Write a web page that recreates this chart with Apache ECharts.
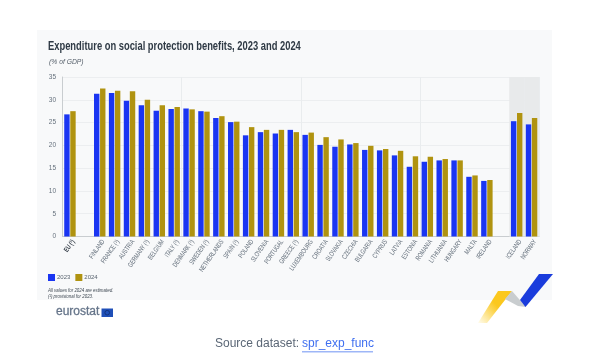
<!DOCTYPE html>
<html>
<head>
<meta charset="utf-8">
<script src="https://cdn.jsdelivr.net/npm/echarts@6/dist/echarts.min.js"></script>
<style>
  html, body { margin: 0; padding: 0; background: #fff; }
  #chart { width: 600px; height: 363px; filter: blur(0.35px); }
</style>
</head>
<body>
<div id="chart"></div>
<script>
const categories = ['EU (¹)', '', 'FINLAND', 'FRANCE (¹)', 'AUSTRIA', 'GERMANY (¹)', 'BELGIUM', 'ITALY (¹)', 'DENMARK (¹)', 'SWEDEN (¹)', 'NETHERLANDS', 'SPAIN (¹)', 'POLAND', 'SLOVENIA', 'PORTUGAL', 'GREECE (¹)', 'LUXEMBOURG', 'CROATIA', 'SLOVAKIA', 'CZECHIA', 'BULGARIA', 'CYPRUS', 'LATVIA', 'ESTONIA', 'ROMANIA', 'LITHUANIA', 'HUNGARY', 'MALTA', 'IRELAND', ' ', 'ICELAND', 'NORWAY'];
const values2023 = [26.8, null, 31.3, 31.5, 29.8, 28.8, 27.6, 28.0, 28.1, 27.5, 26.0, 25.1, 22.2, 22.9, 22.6, 23.4, 22.3, 20.1, 19.7, 20.2, 19.0, 18.9, 17.8, 15.3, 16.4, 16.7, 16.7, 13.1, 12.2, null, 25.3, 24.6];
const values2024 = [27.5, null, 32.5, 32.0, 31.9, 30.0, 28.8, 28.4, 27.9, 27.4, 26.4, 25.2, 24.0, 23.4, 23.4, 22.9, 22.8, 21.8, 21.3, 20.5, 19.9, 19.2, 18.8, 17.6, 17.5, 17.0, 16.7, 13.4, 12.4, null, 27.1, 26.0];
const efta = [null, null, null, null, null, null, null, null, null, null, null, null, null, null, null, null, null, null, null, null, null, null, null, null, null, null, null, null, null, null, 35, 35];

const sans = '"Liberation Sans", sans-serif';
const chart = echarts.init(document.getElementById('chart'), null, { renderer: 'canvas' });

// no condensed font installed, so the slanted country names are squeezed with scaleX
function renderCountry(params, api) {
  const name = categories[api.value(0)];
  if (!name.trim()) return null;
  const p = api.coord([api.value(0), 0]);
  return {
    type: 'text',
    x: p[0] + 3.5,
    y: p[1] + 4,
    rotation: 0.96,
    scaleX: 0.72,
    style: {
      text: name,
      align: 'right',
      verticalAlign: 'middle',
      font: (name === 'EU (¹)' ? 'bold ' : '') + '7px ' + sans,
      fill: name === 'EU (¹)' ? '#333c46' : '#66717d'
    }
  };
}

chart.setOption({
  animation: false,
  backgroundColor: '#ffffff',
  grid: { left: 62.5, right: 61, top: 77, bottom: 126.5, containLabel: false },
  legend: {
    left: 43, top: 269, itemWidth: 7, itemHeight: 7, itemGap: 5,
    icon: 'rect',
    data: ['2023', '2024'],
    textStyle: { fontFamily: sans, fontSize: 6, color: '#5a6570', padding: [0, 0, 0, -3] }
  },
  xAxis: [
    {
      type: 'category',
      data: categories,
      axisTick: { show: false },
      axisLine: { lineStyle: { color: '#c9cdd0', width: 1 } },
      splitLine: { show: true, lineStyle: { color: '#e9ecee', width: 1 } },
      axisLabel: { show: false }
    },
    { type: 'category', data: categories, show: false }
  ],
  yAxis: {
    type: 'value',
    min: 0, max: 35, interval: 5,
    axisLine: { show: true, lineStyle: { color: '#c9cdd0' } },
    axisTick: { show: false },
    splitLine: { lineStyle: { color: '#eceef0', width: 1 } },
    axisLabel: { margin: 6.5, fontFamily: sans, fontSize: 6.5, color: '#66717d' }
  },
  series: [
    {
      name: 'band', type: 'bar', xAxisIndex: 1, data: efta, barWidth: '100%', z: 0,
      silent: true, itemStyle: { color: '#e8eaeb' }
    },
    {
      name: '2023', type: 'bar', data: values2023, barWidth: 5.4, barGap: '12%', z: 3,
      itemStyle: { color: '#1a35f2' }
    },
    {
      name: '2024', type: 'bar', data: values2024, barWidth: 5.4, barGap: '12%', z: 3,
      itemStyle: { color: '#b09310' }
    },
    {
      name: 'countries', type: 'custom', silent: true, z: 4,
      data: categories.map((c, i) => [i, 0]),
      encode: { x: 0, y: 1 },
      renderItem: renderCountry
    }
  ],
  graphic: [
    { type: 'rect', z: -10, silent: true, shape: { x: 37, y: 30, width: 515, height: 270 }, style: { fill: '#f8f9fa' } },
    { type: 'text', x: 48, y: 41, scaleX: 0.78, style: { text: 'Expenditure on social protection benefits, 2023 and 2024', font: 'bold 12px ' + sans, fill: '#2f3a45' } },
    { type: 'text', x: 49, y: 58, scaleX: 0.9, style: { text: '(% of GDP)', font: 'italic 7.5px ' + sans, fill: '#555f6a' } },
    { type: 'text', x: 48, y: 287, scaleX: 0.8, style: { text: 'All values for 2024 are estimated.\n(¹) provisional for 2023.', font: 'italic 5.5px ' + sans, fill: '#3c4650', lineHeight: 6 } },
    { type: 'text', x: 56, y: 306, style: { text: 'eurostat', font: '12px ' + sans, fill: '#66758a', stroke: '#66758a', lineWidth: 0.3 } },
    { type: 'rect', shape: { x: 101.5, y: 308.5, width: 11.5, height: 8.5 }, style: { fill: '#1f4fb8' } },
    { type: 'circle', shape: { cx: 107.2, cy: 312.7, r: 2.3 }, style: { fill: 'none', stroke: '#0f2f70', lineWidth: 0.8 } },
    { type: 'text', x: 215, y: 338, style: { text: 'Source dataset: ', font: '12px ' + sans, fill: '#5a6675' } },
    { type: 'text', x: 302, y: 338, style: { text: 'spr_exp_func', font: '12px ' + sans, fill: '#3f6ff0' } },
    { type: 'rect', shape: { x: 302, y: 351.5, width: 71, height: 0.8 }, style: { fill: '#3f6ff0' } },
    { type: 'polygon', shape: { points: [[478, 323], [498, 291], [512, 291], [487, 323]] }, style: { fill: { type: 'linear', x: 0, y: 1, x2: 1, y2: 0, colorStops: [{ offset: 0, color: '#fffdf0' }, { offset: 0.55, color: '#fbc81e' }, { offset: 1, color: '#fbc81e' }] } } },
    { type: 'polygon', shape: { points: [[512, 291], [526, 307], [518, 306], [505, 299]] }, style: { fill: '#c9cdcf' } },
    { type: 'polygon', shape: { points: [[539, 274], [553, 274], [525.5, 307], [520, 300]] }, style: { fill: '#1a3cdc' } }
  ]
});
</script>
</body>
</html>
